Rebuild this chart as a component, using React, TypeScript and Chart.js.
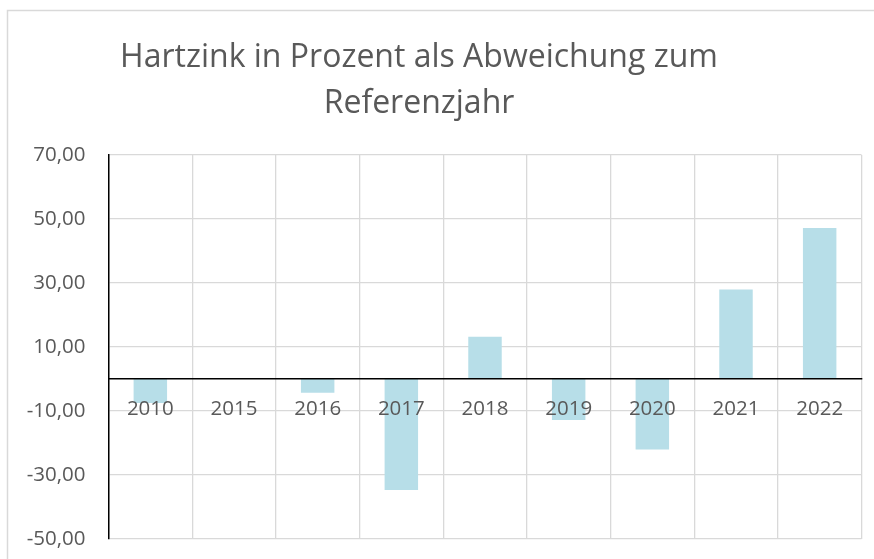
import React, { useEffect, useRef } from "react";
import { Chart, registerables } from "chart.js";

Chart.register(...registerables);

const categories: string[] = ["2010", "2015", "2016", "2017", "2018", "2019", "2020", "2021", "2022"];
const values: number[] = [-7.5, 0, -4.3, -34.7, 13.2, -12.8, -22.0, 28.0, 47.2];
const yTickValues: number[] = [-50, -30, -10, 10, 30, 50, 70];
const titleLines: string[] = ["Hartzink in Prozent als Abweichung zum", "Referenzjahr"];

const TEXT = "#595959";
const GRID = "#d9d9d9";
const BAR = "#b7dee8";

const framePlugin = {
  id: "frameAndTitle",
  beforeDraw(chart: any) {
    const ctx = chart.ctx;
    ctx.save();
    ctx.fillStyle = "#ffffff";
    ctx.fillRect(0, 0, chart.width, chart.height);
    ctx.strokeStyle = GRID;
    ctx.lineWidth = 1.5;
    ctx.beginPath();
    ctx.moveTo(7.5, chart.height);
    ctx.lineTo(7.5, 10.5);
    ctx.lineTo(chart.width, 10.5);
    ctx.stroke();
    ctx.restore();
  },
  afterDraw(chart: any) {
    const ctx = chart.ctx;
    ctx.save();
    ctx.fillStyle = TEXT;
    ctx.font = '400 32px "Open Sans"';
    ctx.textAlign = "center";
    ctx.textBaseline = "alphabetic";
    const cx = 419;
    titleLines.forEach((line, i) => {
      ctx.fillText(line, cx, 66.5 + i * 46);
    });
    ctx.restore();
  },
};

export default function App() {
  const canvasRef = useRef<HTMLCanvasElement | null>(null);

  useEffect(() => {
    const canvas = canvasRef.current;
    if (!canvas) return;
    const chart = new Chart(canvas, {
      type: "bar",
      data: {
        labels: categories,
        datasets: [
          {
            data: values,
            backgroundColor: BAR,
            borderWidth: 0,
            barPercentage: 0.4,
            categoryPercentage: 1,
          },
        ],
      },
      options: {
        responsive: false,
        maintainAspectRatio: false,
        animation: false,
        layout: { padding: { top: 155, right: 12.5, bottom: 20, left: 0 } },
        plugins: {
          legend: { display: false },
          title: { display: false },
          tooltip: { enabled: false },
        },
        scales: {
          x: {
            position: { y: 0 } as any,
            offset: true,
            afterFit: (scale: any) => {
              scale.height = 0;
            },
            grid: {
              color: GRID,
              lineWidth: 1.3,
              drawTicks: false,
              offset: true,
            },
            border: { display: true, color: "#000000", width: 1.5, z: 2 },
            ticks: {
              color: TEXT,
              font: { family: '"Open Sans"', size: 20.5 },
              padding: 18,
              maxRotation: 0,
              autoSkip: false,
              z: 2,
            },
          },
          y: {
            min: -50,
            max: 70,
            afterBuildTicks: (scale: any) => {
              scale.ticks = yTickValues.map((v) => ({ value: v }));
            },
            afterFit: (scale: any) => {
              scale.width = 108.5;
            },
            grid: {
              color: GRID,
              lineWidth: 1.3,
              drawTicks: true,
              tickLength: 23,
              tickColor: "rgba(0,0,0,0)",
            },
            border: { display: true, color: "#000000", width: 1.5 },
            ticks: {
              color: TEXT,
              font: { family: '"Open Sans"', size: 20.5 },
              padding: 0,
              callback: (v: any) => Number(v).toFixed(2).replace(".", ","),
            },
          },
        },
      },
      plugins: [framePlugin],
    });
    return () => chart.destroy();
  }, []);

  return (
    <div style={{ position: "fixed", left: 0, top: 0, width: 874, height: 559, background: "#fff" }}>
      <canvas ref={canvasRef} width={874} height={559} style={{ display: "block", width: 874, height: 559 }} />
    </div>
  );
}
